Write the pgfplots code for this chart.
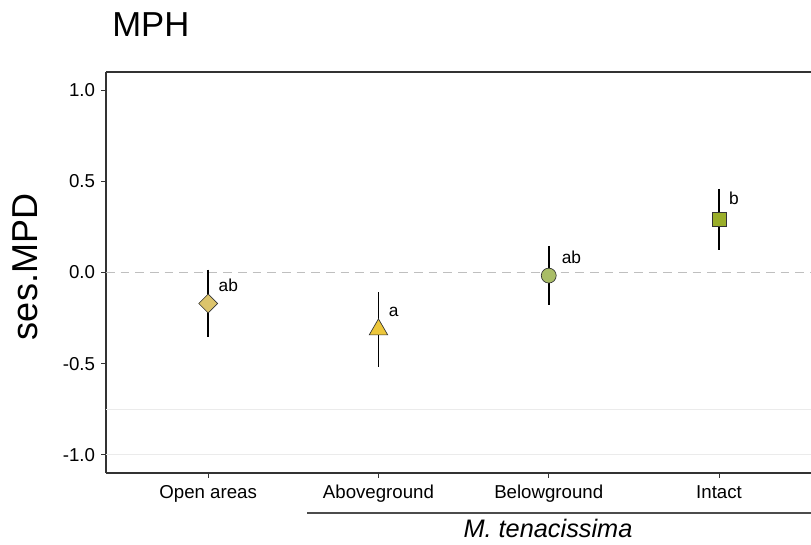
\documentclass[border=0pt]{standalone}
\usepackage{pgfplots}
\pgfplotsset{compat=1.18}
\usepackage{fontspec}
\setmainfont{Liberation Sans}
\definecolor{cdia}{HTML}{DCC46C}
\definecolor{ctri}{HTML}{EDC73B}
\definecolor{ccir}{HTML}{A9BD67}
\definecolor{csqu}{HTML}{9AAE2A}
\definecolor{axisc}{HTML}{333333}
\begin{document}
\begin{tikzpicture}
\useasboundingbox (-79.5pt,-54pt) rectangle (528.75pt,354.75pt);
\begin{axis}[
  at={(0,0)}, anchor=south west,
  scale only axis, width=528.75pt, height=300.75pt,
  xmin=0.4, xmax=4.54, ymin=-1.1, ymax=1.1,
  axis x line*=bottom, axis y line*=left,
  axis line style={color=axisc, line width=0.9pt},
  xtick={1,2,3,4},
  xticklabels={Open areas,Aboveground,Belowground,Intact},
  ytick={-1,-0.5,0,0.5,1},
  yticklabels={-1.0,-0.5,0.0,0.5,1.0},
  tick align=outside, major tick length=3.5pt,
  tick style={color=axisc, line width=0.8pt},
  ticklabel style={font=\fontsize{14}{16}\selectfont, text=black},
  xticklabel style={anchor=base, inner sep=0pt, yshift=-16pt},
  yticklabel style={anchor=east, inner sep=0pt, xshift=-4.5pt},
  clip=false,
]
% light grey lines
\addplot[color=black!8, line width=0.8pt] coordinates {(0.4,-0.75) (4.54,-0.75)};
\addplot[color=black!8, line width=0.8pt] coordinates {(0.4,-1) (4.54,-1)};
% dashed zero line
\addplot[color=black!25, line width=1.2pt, dash pattern=on 6.5pt off 4.5pt] coordinates {(0.4,0) (4.54,0)};
% error bars
\addplot[black, line width=1.2pt] coordinates {(1,0.016) (1,-0.356)};
\addplot[black, line width=1.2pt] coordinates {(2,-0.108) (2,-0.519)};
\addplot[black, line width=1.2pt] coordinates {(3,0.146) (3,-0.180)};
\addplot[black, line width=1.2pt] coordinates {(4,0.459) (4,0.121)};
% points
\addplot[only marks, mark=square*, mark size=5pt, mark options={rotate=45, fill=cdia, draw=axisc, line width=0.5pt}] coordinates {(1,-0.170)};
\addplot[only marks, mark=triangle*, mark size=8pt, mark options={fill=ctri, draw=axisc, line width=0.5pt}] coordinates {(2,-0.313)};
\addplot[only marks, mark=*, mark size=5.6pt, mark options={fill=ccir, draw=axisc, line width=0.5pt}] coordinates {(3,-0.017)};
\addplot[only marks, mark=square*, mark size=5.2pt, mark options={fill=csqu, draw=axisc, line width=0.5pt}] coordinates {(4,0.290)};
% letters
\node[anchor=base west, inner sep=0pt, font=\fontsize{13}{15}\selectfont] at (axis cs:1.06,-0.104) {ab};
\node[anchor=base west, inner sep=0pt, font=\fontsize{13}{15}\selectfont] at (axis cs:2.06,-0.241) {a};
\node[anchor=base west, inner sep=0pt, font=\fontsize{13}{15}\selectfont] at (axis cs:3.075,0.049) {ab};
\node[anchor=base west, inner sep=0pt, font=\fontsize{13}{15}\selectfont] at (axis cs:4.057,0.373) {b};
% top border
\draw[color=axisc, line width=0.9pt] (rel axis cs:0,1) -- (rel axis cs:1,1);
\end{axis}
\draw[color=black!70, line width=1pt] (150.75pt,-30pt) -- (528.75pt,-30pt);
\node[anchor=base, inner sep=0pt, font=\fontsize{19}{22}\selectfont\itshape] at (331.5pt,-48.75pt) {M. tenacissima};
\node[anchor=base west, inner sep=0pt, font=\fontsize{26}{30}\selectfont] at (4.5pt,327pt) {MPH};
\node[rotate=90, anchor=base, inner sep=0pt, font=\fontsize{27}{30}\selectfont] at (-51.4pt,154.5pt) {ses.MPD};
\end{tikzpicture}
\end{document}
